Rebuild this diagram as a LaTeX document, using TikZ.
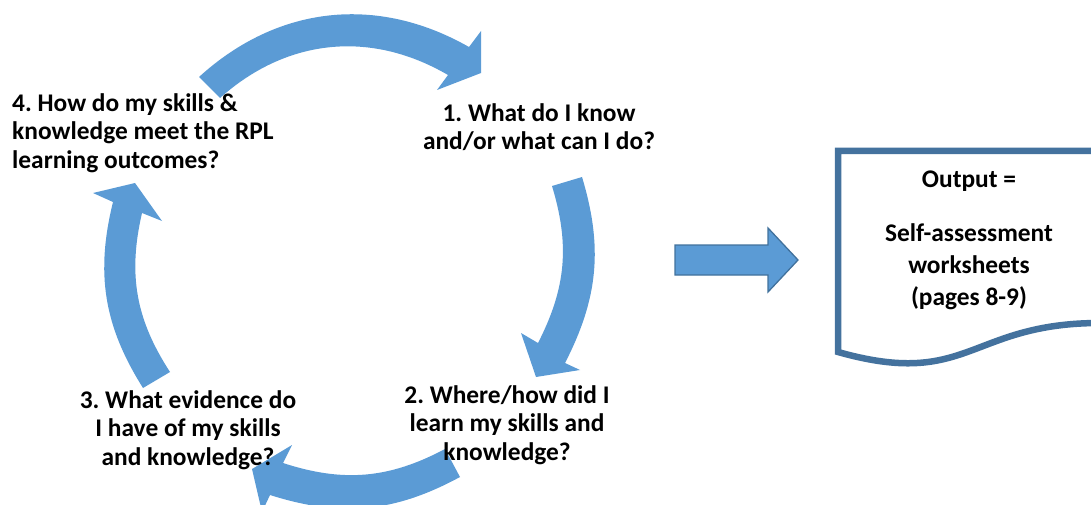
\documentclass[tikz,border=0pt]{standalone}
\usepackage{fontspec}
\setmainfont{Carlito}
\frenchspacing
\begin{document}
\begin{tikzpicture}[x=1pt,y=1pt,
  cycarrow/.style={fill=arrowblue,draw=none},
  blockarrow/.style={fill=arrowblue,draw=edgeblue,line width=1.3pt,line join=miter},
  docshape/.style={draw=docblue,line width=6.5pt,fill=white,line join=miter},
  label/.style={inner sep=0pt,font=\fontsize{25.4}{28.5}\selectfont\bfseries},
  doclabel/.style={inner sep=0pt,font=\fontsize{25.4}{32}\selectfont\bfseries},
]
\definecolor{arrowblue}{RGB}{91,155,213}
\definecolor{edgeblue}{RGB}{65,113,156}
\definecolor{docblue}{RGB}{68,114,158}
\useasboundingbox (0,0) rectangle (1091,-505);
\clip (0,0) rectangle (1091,-505);

% top arrow (4 -> 1)
\coordinate (ta) at (199,-77);
\coordinate (tb) at (469,-47);
\coordinate (tc) at (481,-31);
\coordinate (td) at (481,-73);
\coordinate (te) at (437,-90);
\coordinate (tf) at (448,-75);
\coordinate (tg) at (220,-98);
\path[cycarrow] (ta) to[bend left=36] (tb) -- (tc) -- (td) -- (te) -- (tf)
  to[bend right=36] (tg) -- cycle;

% right arrow (1 -> 2)
\coordinate (ra) at (582,-177);
\coordinate (rb) at (565,-363);
\coordinate (rc) at (580,-370);
\coordinate (rd) at (536,-377);
\coordinate (re) at (521,-333);
\coordinate (rf) at (538,-343);
\coordinate (rg) at (552,-186);
\path[cycarrow] (ra) to[bend left=22] (rb) -- (rc) -- (rd) -- (re) -- (rf)
  to[bend right=22] (rg) -- cycle;

% bottom arrow (2 -> 3)
\coordinate (ba) at (460,-477);
\coordinate (bb) at (270,-495);
\coordinate (bc) at (262,-512);
\coordinate (bd) at (252,-469);
\coordinate (be) at (292,-445);
\coordinate (bf) at (283,-463);
\coordinate (bg) at (445,-449);
\path[cycarrow] (ba) to[bend left=23] (bb) -- (bc) -- (bd) -- (be) -- (bf)
  to[bend right=23] (bg) -- cycle;

% left arrow (3 -> 4)
\coordinate (la) at (143,-388);
\coordinate (lb) at (113,-202);
\coordinate (lc) at (93,-193);
\coordinate (ld) at (135,-183);
\coordinate (le) at (162,-221);
\coordinate (lf) at (142,-213);
\coordinate (lg) at (170,-372);
\path[cycarrow] (la) to[bend left=23] (lb) -- (lc) -- (ld) -- (le) -- (lf)
  to[bend right=23] (lg) -- cycle;

% step labels
\node[label,align=center] (s1) at (539,-127) {1. What do I know\\and/or what can I do?};
\node[label,align=center] (s2) at (507,-425) {2. Where/how did I\\learn my skills and\\knowledge?};
\node[label,align=center] (s3) at (188,-430) {3. What evidence do\\I have of my skills\\and knowledge?};
\node[label,align=left,anchor=west] (s4) at (12,-133) {4. How do my skills \&\\knowledge meet the RPL\\learning outcomes?};

% arrow to the output
\path[blockarrow] (675,-245) -- (768,-245) -- (768,-228) -- (798,-260)
  -- (768,-292) -- (768,-275) -- (675,-275) -- cycle;

% output document
\path[docshape] (1100,-151) -- (838,-151) -- (838,-352)
  .. controls (969,-389) and (969,-323) .. (1100,-323) -- cycle;
\node[doclabel,align=center] (out) at (969,-181) {Output =};
\node[doclabel,align=center] (ws) at (969,-267) {Self-assessment\\worksheets\\(pages 8-9)};
\end{tikzpicture}
\end{document}
